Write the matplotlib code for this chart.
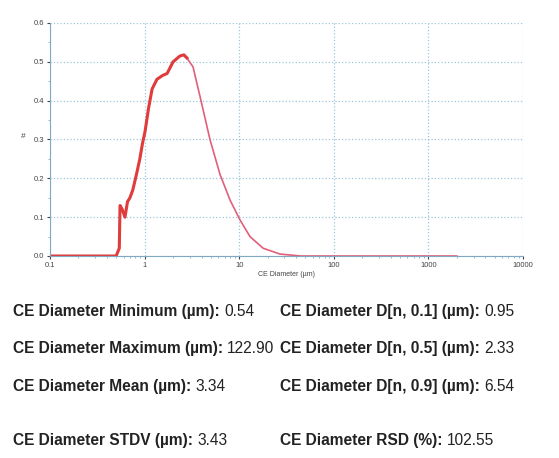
import matplotlib.pyplot as plt
from matplotlib.ticker import FixedLocator, MultipleLocator

plt.rcParams['font.family'] = ['Liberation Sans', 'DejaVu Sans']

# size distribution
diameter = [0.10, 0.50, 0.54, 0.55, 0.58, 0.62, 0.66, 0.70, 0.75, 0.82, 0.89, 0.95,
            1.01, 1.10, 1.20, 1.35, 1.55, 1.73, 2.0, 2.36, 2.6, 2.8, 3.25, 3.86,
            4.91, 6.27, 8.0, 10.2, 13.0, 17.9, 27.0, 45.0, 122.9, 2000.0]
count = [0.0, 0.0, 0.02, 0.13, 0.12, 0.10, 0.14, 0.15, 0.17, 0.21, 0.25, 0.29,
         0.32, 0.38, 0.43, 0.455, 0.465, 0.47, 0.50, 0.515, 0.518, 0.51, 0.487, 0.41,
         0.30, 0.21, 0.144, 0.093, 0.05, 0.02, 0.005, 0.0, 0.0, 0.0]
peak = 21  # index where the thick red stretch ends

xticks = [0.1, 1, 10, 100, 1000, 10000]
xtick_labels = ['0.1', '1', '10', '100', '1000', '10000']

stats_left = [("CE Diameter Minimum (\u00b5m): ", "0.54"),
              ("CE Diameter Maximum (\u00b5m): ", "122.90"),
              ("CE Diameter Mean (\u00b5m): ", "3.34"),
              ("CE Diameter STDV (\u00b5m): ", "3.43")]
stats_right = [("CE Diameter D[n, 0.1] (\u00b5m): ", "0.95"),
               ("CE Diameter D[n, 0.5] (\u00b5m): ", "2.33"),
               ("CE Diameter D[n, 0.9] (\u00b5m): ", "6.54"),
               ("CE Diameter RSD (%): ", "102.55")]

W, H = 559, 458
fig = plt.figure(figsize=(W / 100, H / 100), dpi=100)
ax = fig.add_axes([50 / W, 1 - 256 / H, (523 - 50) / W, (256 - 23) / H])

ax.plot(diameter, count, color='#e0607a', lw=1.2)
ax.plot(diameter[:peak + 1], count[:peak + 1], color='#e03c3c', lw=2.2,
        solid_joinstyle='round')

ax.set_xscale('log')
ax.set_xlim(0.1, 10000)
ax.set_ylim(0, 0.6)
ax.xaxis.set_major_locator(FixedLocator(xticks))
ax.set_xticklabels(xtick_labels)
ax.yaxis.set_major_locator(MultipleLocator(0.1))
ax.yaxis.set_minor_locator(MultipleLocator(0.05))
ax.tick_params(axis='both', labelsize=5.5, colors='#444444', length=2, pad=2)
ax.tick_params(axis='both', which='minor', length=1.5, colors='#7fb0cc')
ax.set_xlabel("CE Diameter (\u00b5m)", fontsize=5, color='#444444', labelpad=2)
ax.set_ylabel("#", fontsize=6, color='#444444', rotation=0, labelpad=8)

ax.grid(True, which='major', color='#9cc6dc', linestyle=':', linewidth=0.9)
for side in ['top', 'right']:
    ax.spines[side].set_visible(False)
ax.spines['left'].set_color('#7fa9c4')
ax.spines['bottom'].set_color('#7fa9c4')

# baselines of the four stat rows, in pixels from the top
rows_y = [316, 353, 391, 445]
for x0, stats in [(13, stats_left), (280, stats_right)]:
    for (lbl, val), y in zip(stats, rows_y):
        t = fig.text(x0 / W, 1 - y / H, lbl, fontsize=11.2, fontweight='bold',
                     va='baseline', color='#222222')
        fig.canvas.draw()
        bb = t.get_window_extent()
        fig.text(bb.x1 / W, 1 - y / H, val, fontsize=11.2, va='baseline',
                 color='#222222')

fig.savefig('out.png', dpi=100, facecolor='white')
